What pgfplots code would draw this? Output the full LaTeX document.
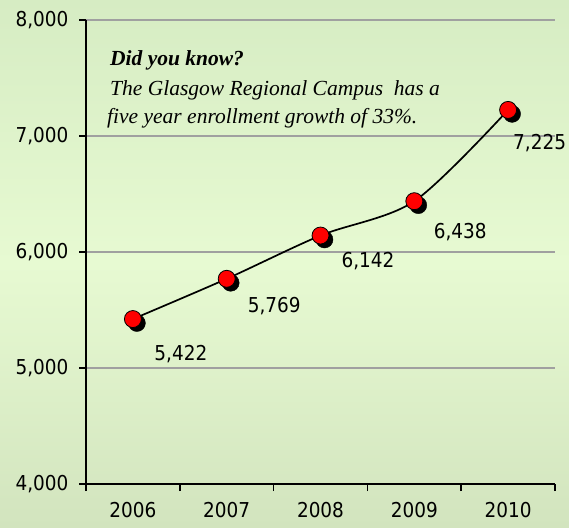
\documentclass[border=0pt]{standalone}
\usepackage{pgfplots}
\pgfplotsset{compat=1.18}
\usepackage{fontspec}
\setmainfont{Liberation Serif}
\newfontfamily\numfont[FakeStretch=0.9]{DejaVu Sans}
\definecolor{bgtop}{HTML}{D6ECC3}
\definecolor{bgmid}{HTML}{E7FAD2}
\definecolor{bgbot}{HTML}{D2E4BE}
\definecolor{gridgray}{HTML}{A0A0A0}
\newcommand{\numsize}{\numfont\fontsize{20.5}{24}\selectfont}
\begin{document}
\begin{tikzpicture}
\shade[top color=bgtop, bottom color=bgbot, middle color=bgmid] (0pt,0pt) rectangle (569pt,527pt);
\begin{axis}[
  at={(86pt,43pt)}, anchor=south west,
  scale only axis, width=469pt, height=464pt,
  xmin=-0.5, xmax=4.5, ymin=4000, ymax=8000,
  clip=false,
  axis x line*=bottom, axis y line*=left,
  axis line style={-, black, line width=1.8pt},
  ytick={4000,5000,6000,7000,8000},
  yticklabels={{4,000},{5,000},{6,000},{7,000},{8,000}},
  ymajorgrids, grid style={gridgray, line width=1.8pt},
  xtick={0,1,2,3,4},
  xticklabels={2006,2007,2008,2009,2010},
  minor xtick={-0.5,0.5,1.5,2.5,3.5,4.5},
  major x tick style={draw=none},
  tick align=outside,
  major tick length=7pt, minor tick length=7pt,
  tick style={black, line width=1.5pt},
  ticklabel style={font=\numsize},
  x tick label style={yshift=-8pt},
  y tick label style={xshift=-7pt},
]
\addplot[black, line width=1.7pt, smooth, tension=0.5, mark=none]
  coordinates {(0,5422)(1,5769)(2,6142)(3,6438)(4,7225)};
\addplot[only marks, mark=*, mark size=8.5pt,
  mark options={fill=black, draw=black, xshift=4pt, yshift=-4pt}]
  coordinates {(0,5422)(1,5769)(2,6142)(3,6438)(4,7225)};
\addplot[only marks, mark=*, mark size=8.5pt,
  mark options={fill=red, draw=black, line width=0.8pt}]
  coordinates {(0,5422)(1,5769)(2,6142)(3,6438)(4,7225)};
\node[font=\numsize, xshift=48pt, yshift=-35pt] at (axis cs:0,5422) {5,422};
\node[font=\numsize, xshift=47.5pt, yshift=-27pt] at (axis cs:1,5769) {5,769};
\node[font=\numsize, xshift=47.5pt, yshift=-26pt] at (axis cs:2,6142) {6,142};
\node[font=\numsize, xshift=46pt, yshift=-30.5pt] at (axis cs:3,6438) {6,438};
\node[font=\numsize, xshift=31.5pt, yshift=-33pt] at (axis cs:4,7225) {7,225};
\end{axis}
\node[anchor=base west, inner sep=0pt, font=\bfseries\itshape\fontsize{21.5}{26}\selectfont] at (110pt,461pt) {Did you know?};
\node[anchor=base west, inner sep=0pt, font=\itshape\fontsize{21.5}{26}\selectfont] at (110pt,431.5pt) {The Glasgow Regional Campus\ \ has a};
\node[anchor=base west, inner sep=0pt, font=\itshape\fontsize{21.5}{26}\selectfont] at (107pt,403pt) {five year enrollment growth of 33\%.};
\pgfresetboundingbox
\useasboundingbox (0pt,0pt) rectangle (569pt,527pt);
\end{tikzpicture}
\end{document}
